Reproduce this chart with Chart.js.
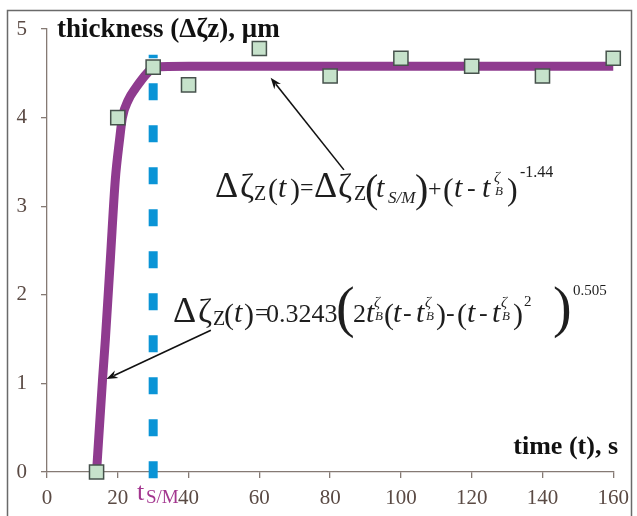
<!DOCTYPE html>
<html>
<head>
<meta charset="utf-8">
<script src="https://cdn.jsdelivr.net/npm/chart.js@4.4.0/dist/chart.umd.min.js"></script>
<style>
  html, body { margin: 0; padding: 0; background: #fff; overflow: hidden; }
  #wrap { width: 637px; height: 516px; }
</style>
</head>
<body>
<div id="wrap"><canvas id="myChart" width="637" height="516"></canvas></div>
<script>
// measured film thickness vs time
const time_s = [14, 20, 30, 40, 60, 80, 100, 120, 140, 160];
const thickness_um = [0, 4.0, 4.57, 4.37, 4.78, 4.47, 4.67, 4.58, 4.47, 4.67];

// fitted curve
const fit_time = [14, 15.7, 16.5, 17.9, 19.3, 20.5, 21.3, 23, 25, 27, 28.5, 30, 40, 160];
const fit_thickness = [0, 1.05, 1.5, 2.4, 3.3, 3.75, 4.0, 4.2, 4.33, 4.44, 4.51, 4.57, 4.58, 4.58];

// switching time t_S/M and the extent of its marker line
const t_sm = 30;
const t_sm_span = [-0.07, 4.71];

const x_ticks = [0, 20, 40, 60, 80, 100, 120, 140, 160];
const y_ticks = [0, 1, 2, 3, 4, 5];

// arrows from the formulas to the curve: [t0, v0, t1, v1]
const note_arrows = [
    [83.9, 3.41, 63.2, 4.45],
    [46.3, 1.6, 16.8, 1.05],
];

const axis_color = '#857a74';
const label_color = '#5a4a44';
const purple = '#8f3b8f';
const blue = '#0a94d6';
const serif = '"Liberation Serif", "Times New Roman", serif';

function f(size, style) {
    return (style ? style + ' ' : '') + size + 'px ' + serif;
}

// formula pieces: [x, text, font, baseline]
const eq_top = [
    [215, 'Δ', f(36), 197], [240, 'ζ', f(34), 197], [254, 'Z', f(20), 200],
    [268, '(', f(30), 199], [278, 't', f(30, 'italic'), 197], [290, ')', f(30), 199],
    [300, '=', f(24), 195],
    [314, 'Δ', f(36), 197], [338, 'ζ', f(34), 197], [354, 'Z', f(20), 200],
    [365, '(', f(40), 202], [376, 't', f(30, 'italic'), 197], [388, 'S/M', f(17, 'italic'), 203],
    [415, ')', f(40), 202], [428, '+', f(24), 196],
    [443, '(', f(32), 200], [454, 't', f(30, 'italic'), 197], [467, '-', f(26), 196],
    [482, 't', f(30, 'italic'), 197], [494, 'ζ', f(15, 'italic'), 182], [495, 'B', f(13, 'italic'), 195],
    [507, ')', f(32), 200], [520, '-1.44', f(16), 177],
];

const eq_bottom = [
    [173, 'Δ', f(36), 322], [198, 'ζ', f(34), 322], [213, 'Z', f(20), 325],
    [224, '(', f(30), 324], [234, 't', f(30, 'italic'), 322], [244, ')', f(30), 324],
    [255, '=', f(24), 320], [266, '0.3243', f(26), 322],
    [336, '(', f(56), 326], [353, '2', f(26), 322],
    [366, 't', f(30, 'italic'), 322], [374, 'ζ', f(15, 'italic'), 307], [375, 'B', f(13, 'italic'), 320],
    [384, '(', f(30), 324], [393, 't', f(30, 'italic'), 322], [403, '-', f(26), 321],
    [416, 't', f(30, 'italic'), 322], [425, 'ζ', f(15, 'italic'), 307], [426, 'B', f(13, 'italic'), 320],
    [436, ')', f(30), 324], [446, '-', f(26), 321],
    [457, '(', f(30), 324], [467, 't', f(30, 'italic'), 322], [479, '-', f(26), 321],
    [492, 't', f(30, 'italic'), 322], [501, 'ζ', f(15, 'italic'), 307], [502, 'B', f(13, 'italic'), 320],
    [513, ')', f(30), 324], [524, '2', f(15), 306],
    [553, ')', f(56), 326], [573, '0.505', f(15), 295],
];

function drawPieces(ctx, pieces) {
    ctx.fillStyle = '#1e1e1e';
    ctx.textAlign = 'left';
    ctx.textBaseline = 'alphabetic';
    pieces.forEach(p => {
        ctx.font = p[2];
        ctx.fillText(p[1], p[0], p[3]);
    });
}

function drawArrow(ctx, x0, y0, x1, y1) {
    const a = Math.atan2(y1 - y0, x1 - x0);
    const head = 12, spread = 0.36;
    ctx.beginPath();
    ctx.moveTo(x0, y0);
    ctx.lineTo(x1 - Math.cos(a) * head * 0.7, y1 - Math.sin(a) * head * 0.7);
    ctx.stroke();
    ctx.beginPath();
    ctx.moveTo(x1, y1);
    ctx.lineTo(x1 - head * Math.cos(a - spread), y1 - head * Math.sin(a - spread));
    ctx.lineTo(x1 - head * 0.65 * Math.cos(a), y1 - head * 0.65 * Math.sin(a));
    ctx.lineTo(x1 - head * Math.cos(a + spread), y1 - head * Math.sin(a + spread));
    ctx.closePath();
    ctx.fill();
}

const decor = {
    id: 'decor',
    beforeDraw(chart) {
        const c = chart.ctx;
        c.save();
        c.fillStyle = '#fff';
        c.fillRect(0, 0, chart.width, chart.height);
        c.restore();
    },
    afterDraw(chart) {
        const c = chart.ctx;
        const xs = chart.scales.x, ys = chart.scales.y;
        c.save();

        // outer frame
        c.strokeStyle = '#6a6a6a';
        c.lineWidth = 1.5;
        c.strokeRect(7.5, 10.5, 624, 540);

        // axis titles
        c.fillStyle = '#111';
        c.font = f(27, 'bold');
        c.textAlign = 'left';
        c.textBaseline = 'alphabetic';
        c.fillText('thickness (Δζz), μm', 57, 37);
        c.font = f(26, 'bold');
        c.textAlign = 'right';
        c.fillText('time (t), s', 618, 454);

        // t_S/M label under the axis
        c.fillStyle = '#a3368f';
        c.textAlign = 'left';
        c.font = f(26);
        c.fillText('t', 137, 500);
        c.font = f(19);
        c.fillText('S/M', 146, 503);

        // arrows
        c.strokeStyle = '#111';
        c.fillStyle = '#111';
        c.lineWidth = 1.6;
        note_arrows.forEach(a => {
            drawArrow(c, xs.getPixelForValue(a[0]), ys.getPixelForValue(a[1]),
                xs.getPixelForValue(a[2]), ys.getPixelForValue(a[3]));
        });

        drawPieces(c, eq_top);
        drawPieces(c, eq_bottom);
        c.restore();
    }
};

const ctx = document.getElementById('myChart').getContext('2d');

const chart = new Chart(ctx, {
    type: 'scatter',
    data: {
        datasets: [{
            // measured points, on top
            data: time_s.map((t, i) => ({ x: t, y: thickness_um[i] })),
            pointStyle: 'rect',
            pointRadius: 10,
            pointBackgroundColor: '#c6e2cb',
            pointBorderColor: '#46524c',
            pointBorderWidth: 1.5,
            showLine: false,
            clip: false,
        }, {
            data: fit_time.map((t, i) => ({ x: t, y: fit_thickness[i] })),
            showLine: true,
            borderColor: purple,
            borderWidth: 9,
            pointRadius: 0,
            cubicInterpolationMode: 'monotone',
            borderCapStyle: 'butt',
            borderJoinStyle: 'round',
            clip: false,
        }, {
            data: t_sm_span.map(v => ({ x: t_sm, y: v })),
            showLine: true,
            borderColor: blue,
            borderWidth: 9,
            borderDash: [17, 25],
            borderCapStyle: 'butt',
            pointRadius: 0,
            clip: false,
        }]
    },
    options: {
        responsive: false,
        animation: false,
        events: [],
        layout: { padding: { top: 29, right: 20, left: 0, bottom: 0 } },
        plugins: {
            legend: { display: false },
            tooltip: { enabled: false },
        },
        scales: {
            x: {
                type: 'linear',
                min: 0,
                max: 160,
                afterFit: s => { s.height = 44; },
                afterBuildTicks: s => { s.ticks = x_ticks.map(v => ({ value: v })); },
                grid: { drawOnChartArea: false, drawTicks: true, tickLength: 6, color: axis_color, lineWidth: 1.3 },
                border: { display: true, color: axis_color, width: 1.3 },
                ticks: { color: label_color, font: { family: serif, size: 21 }, padding: 8 },
            },
            y: {
                type: 'linear',
                min: 0,
                max: 5,
                afterFit: s => { s.width = 47; },
                afterBuildTicks: s => { s.ticks = y_ticks.map(v => ({ value: v })); },
                grid: { drawOnChartArea: false, drawTicks: true, tickLength: 6, color: axis_color, lineWidth: 1.3 },
                border: { display: true, color: axis_color, width: 1.3 },
                ticks: { color: label_color, font: { family: serif, size: 21 }, padding: 14 },
            }
        }
    },
    plugins: [decor],
});
</script>
</body>
</html>
